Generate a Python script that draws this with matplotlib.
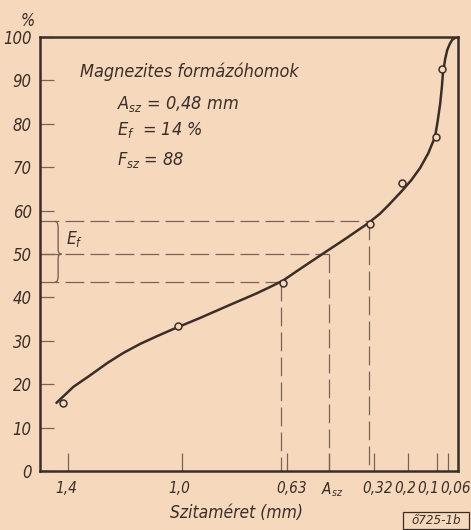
import matplotlib
matplotlib.use("Agg")
import matplotlib.pyplot as plt
import matplotlib.transforms as mtransforms
from matplotlib.path import Path
from matplotlib.patches import PathPatch, Rectangle

# sieve curve of the magnesite moulding sand
curve_mm = [1.442, 1.382, 1.322, 1.262, 1.206, 1.146, 1.086, 1.030, 0.934, 0.829,
            0.740, 0.688, 0.642, 0.570, 0.494, 0.420, 0.342, 0.300, 0.268, 0.222,
            0.190, 0.159, 0.130, 0.106, 0.097, 0.088, 0.082, 0.078, 0.070, 0.063,
            0.054, 0.046, 0.036, 0.028]
curve_pct = [15.7, 19.4, 22.1, 24.9, 27.2, 29.3, 31.1, 32.7, 35.3, 38.3,
             40.8, 42.4, 43.9, 47.1, 50.4, 53.6, 57.1, 59.3, 61.4, 64.6,
             67.0, 69.8, 73.2, 77.0, 80.5, 84.6, 88.4, 91.8, 95.0, 97.0,
             98.4, 99.3, 99.8, 100.0]

# measured points (circles)
point_mm = [1.42, 1.012, 0.642, 0.335, 0.222, 0.102, 0.081]
point_pct = [15.7, 33.4, 43.3, 56.9, 66.4, 77.0, 92.6]

# helper lines: E_f limits and mean grain size
level_pct = [57.5, 50.0, 43.5]
level_mm = [0.34, 0.48, 0.65]

xtick_pos = [1.4, 1.0, 0.63, 0.48, 0.32, 0.2, 0.1, 0.06]
xtick_lab = ["1,4", "1,0", "0,63", "$A_{sz}$", "0,32", "0,2", "0,1", "0,06"]
xtick_shift = [-2, -2, 5, 3, 3, -3, -8, 8]
ytick_pos = [0, 10, 20, 30, 40, 50, 60, 70, 80, 90, 100]

paper = "#f6d9bd"
ink = "#3b2e28"
dash_ink = "#7a6256"

plt.rcParams["font.family"] = ["DejaVu Sans"]
plt.rcParams["font.stretch"] = "condensed"
plt.rcParams["mathtext.fontset"] = "custom"
plt.rcParams["mathtext.it"] = "DejaVu Sans:italic"
plt.rcParams["mathtext.rm"] = "DejaVu Sans:italic"

fig = plt.figure(figsize=(4.71, 5.30), dpi=100, facecolor=paper)
ax = fig.add_axes([40 / 471, 59 / 530, 418 / 471, 434 / 530], facecolor=paper)

ax.set_xlim(1.5, 0.025)
ax.set_ylim(0, 100)

for s in ax.spines.values():
    s.set_color(ink)
    s.set_linewidth(1.8)

# dashed construction lines
for p, m in zip(level_pct, level_mm):
    ax.plot([1.5, m], [p, p], color=dash_ink, lw=0.9, dashes=(15, 5), zorder=1)
    ax.plot([m, m], [p, 0], color=dash_ink, lw=0.9, dashes=(15, 5), zorder=1)

ax.plot(curve_mm, curve_pct, color=ink, lw=1.8, solid_joinstyle="round",
        solid_capstyle="round", zorder=3)
ax.plot(point_mm, point_pct, "o", ms=5, mfc=paper, mec=ink, mew=1.1, zorder=4)

# brace for E_f
top, mid, bot = level_pct[0], level_pct[1], level_pct[2]
xa, xb, xc = 1.447, 1.436, 1.424
verts = [(xa, top), (xb, top), (xb, top - 1.5),
         (xb, mid + 1.0), (xb, mid), (xc, mid),
         (xb, mid), (xb, mid - 1.0),
         (xb, bot + 1.5), (xb, bot), (xa, bot)]
codes = [Path.MOVETO, Path.CURVE3, Path.CURVE3,
         Path.LINETO, Path.CURVE3, Path.CURVE3,
         Path.CURVE3, Path.CURVE3,
         Path.LINETO, Path.CURVE3, Path.CURVE3]
ax.add_patch(PathPatch(Path(verts, codes), fill=False, ec=dash_ink, lw=1.0))
ax.text(1.41, 53.5, "$E_f$", fontsize=12.5, color=ink, ha="left", va="center")

ax.set_xticks(xtick_pos)
ax.set_xticklabels(xtick_lab)
ax.set_yticks(ytick_pos)
ax.set_yticklabels([str(v) for v in ytick_pos])
ax.tick_params(axis="x", direction="in", length=13, width=0.9, color=dash_ink,
               pad=7, labelsize=11, labelcolor=ink)
ax.tick_params(axis="y", direction="in", length=10, width=0.9, color=dash_ink,
               pad=6, labelsize=12, labelcolor=ink)
for lab in ax.get_xticklabels() + ax.get_yticklabels():
    lab.set_style("italic")
for lab, dx in zip(ax.get_xticklabels(), xtick_shift):
    lab.set_transform(lab.get_transform() +
                      mtransforms.ScaledTranslation(dx / 100, 0, fig.dpi_scale_trans))

ax.text(-0.029, 1.037, "%", transform=ax.transAxes, fontsize=12, color=ink,
        style="italic", ha="center", va="center")

ax.text(0.095, 0.919, "Magnezites formázóhomok", transform=ax.transAxes,
        fontsize=13, color=ink, style="italic", va="center")
ax.text(0.185, 0.845, "$A_{sz}$ = 0,48 mm", transform=ax.transAxes,
        fontsize=13, color=ink, style="italic", va="center")
ax.text(0.185, 0.786, "$E_f$  = 14 %", transform=ax.transAxes,
        fontsize=13, color=ink, style="italic", va="center")
ax.text(0.185, 0.717, "$F_{sz}$ = 88", transform=ax.transAxes,
        fontsize=13, color=ink, style="italic", va="center")

fig.text(237 / 471, 1 - 513 / 530, "Szitaméret (mm)", fontsize=12.5, color=ink,
         style="italic", ha="center", va="center")

fig.patches.append(Rectangle((403 / 471, 1 - 529 / 530), 66 / 471, 17 / 530,
                             transform=fig.transFigure, fill=False, ec=ink, lw=0.9))
fig.text(436 / 471, 1 - 521 / 530, "ő725-1b", fontsize=9.5, color=ink,
         style="italic", ha="center", va="center")

fig.savefig("out.png", dpi=100, facecolor=paper)
